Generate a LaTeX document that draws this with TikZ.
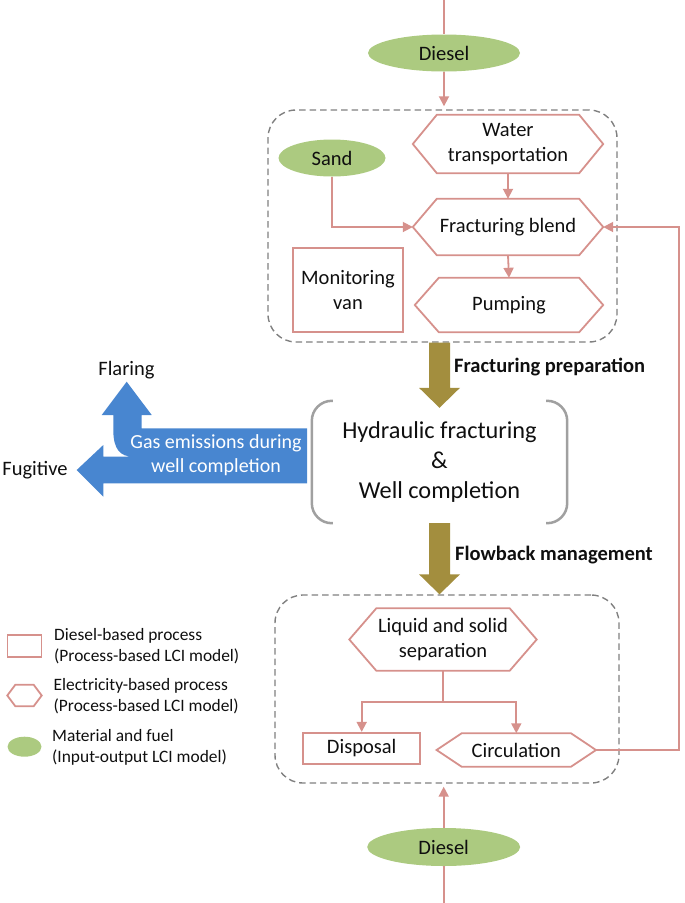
\documentclass[tikz,border=0pt]{standalone}
\usepackage{fontspec}
\setmainfont{Carlito}
\usetikzlibrary{arrows.meta,shapes.geometric,calc}
\definecolor{pinkc}{RGB}{214,145,140}
\definecolor{greenc}{RGB}{172,202,128}
\definecolor{goldc}{RGB}{163,142,62}
\definecolor{bluec}{RGB}{72,134,208}
\definecolor{grayc}{RGB}{128,128,128}
\definecolor{bracketc}{RGB}{160,160,160}
\definecolor{textc}{RGB}{15,15,15}
\newcommand\hexdraw[2]{\draw[proc] (#1.west) -- ([xshift=#2]#1.north west) -- ([xshift=-#2]#1.north east) -- (#1.east) -- ([xshift=-#2]#1.south east) -- ([xshift=#2]#1.south west) -- cycle;}
\newcommand\goldarr[2]{\fill[goldc] let \p1=(#1), \p2=(#2) in (\x1-10.5pt,\y1) -- (\x1-10.5pt,\y2+20pt) -- (\x1-20.5pt,\y2+20pt) -- (\x1,\y2) -- (\x1+20.5pt,\y2+20pt) -- (\x1+10.5pt,\y2+20pt) -- (\x1+10.5pt,\y1) -- cycle;}
\begin{document}
\begin{tikzpicture}[x=1pt,y=-1pt,
  txt/.style={font=\fontsize{20.5}{25}\selectfont, align=center, inner sep=0pt, text=textc},
  mat/.style={txt, ellipse, fill=greenc, draw=none},
  box/.style={txt, rectangle},
  proc/.style={draw=pinkc, line width=1.8pt},
  flow/.style={draw=pinkc, line width=1.8pt, -{Triangle[length=10pt,width=10pt]}},
  dashbox/.style={draw=grayc, line width=1.4pt, dash pattern=on 6.5pt off 4pt, rounded corners=28pt, inner sep=0pt},
  legtxt/.style={font=\fontsize{17.4}{20.7}\selectfont, align=left, inner sep=0pt, text=textc, anchor=west},
  lbl/.style={font=\fontsize{20.5}{25}\selectfont\bfseries, inner sep=0pt, text=textc, anchor=west}
]
\useasboundingbox (0,0) rectangle (685,903);

% dashed group boxes
\node[dashbox, minimum width=349pt, minimum height=232pt] (box1) at (442.5,226) {};
\node[dashbox, minimum width=344pt, minimum height=188pt] (box2) at (447,689) {};

% top part
\node[mat, minimum width=152pt, minimum height=37pt] (diesel1) at (444,53) {Diesel};
\node[mat, minimum width=107pt, minimum height=37pt] (sand) at (332,158) {Sand};
\node[box, minimum width=190pt, minimum height=58pt] (water) at (508,144) {Water\\transportation};
\hexdraw{water}{24pt}
\node[box, minimum width=190pt, minimum height=56pt] (blend) at (508,227) {Fracturing blend};
\hexdraw{blend}{24pt}
\node[box, minimum width=188pt, minimum height=54pt] (pump) at (509,305) {Pumping};
\hexdraw{pump}{24pt}
\node[box, draw=pinkc, line width=1.8pt, minimum width=110pt, minimum height=84pt] (monitor) at (348,290) {Monitoring\\van};

\coordinate (top) at (444,0);
\draw[proc] (top) -- (diesel1.north);
\draw[flow, shorten >=3pt] (diesel1.south) -- (diesel1.south |- box1.north);
\draw[flow] (sand.south) |- (blend.west);
\draw[flow] (water.south) -- (blend.north);
\draw[flow] (blend.south) -- (pump.north);

% middle
\node[box, font=\fontsize{24.3}{29.7}\selectfont, minimum width=255pt, minimum height=122pt] (hyd) at (439.5,462) {Hydraulic fracturing\\\&\\Well completion};
\draw[bracketc, line width=2.5pt, rounded corners=20pt] ([xshift=21pt]hyd.north west) -- (hyd.north west) -- (hyd.south west) -- ([xshift=21pt]hyd.south west);
\draw[bracketc, line width=2.5pt, rounded corners=20pt] ([xshift=-21pt]hyd.north east) -- (hyd.north east) -- (hyd.south east) -- ([xshift=-21pt]hyd.south east);

\goldarr{box1.south -| hyd.north}{[yshift=-7pt]hyd.north}
\goldarr{hyd.south}{box2.north -| hyd.south}
\node[lbl] (prep) at (454,367) {Fracturing preparation};
\node[lbl] (flowback) at (455,555) {Flowback management};

% blue emission arrows
\fill[bluec] (307,428.3) -- (141.7,428.3) -- (141.7,415) -- (151.7,415) -- (126.7,381.7) -- (101.7,415) -- (113.3,415) -- (113.3,430)
  .. controls (113.3,449) and (120,456.7) .. (133.3,456.7) -- (103.3,456.7) -- (103.3,445) -- (76.7,470) -- (103.3,496.7) -- (103.3,483.3) -- (307,483.3) -- cycle;
\node[txt, font=\fontsize{20}{24}\selectfont, text=white] (gas) at (216,455) {Gas emissions during\\well completion};
\node[txt] (flaring) at (126.5,370) {Flaring};
\node[txt] (fugitive) at (35,470) {Fugitive};

% bottom part
\node[box, minimum width=187pt, minimum height=62pt] (sep) at (443,639.5) {Liquid and solid\\separation};
\hexdraw{sep}{27pt}
\node[box, draw=pinkc, line width=1.8pt, minimum width=117pt, minimum height=31pt] (disposal) at (361.7,748.3) {Disposal};
\node[box, minimum width=159pt, minimum height=33pt] (circ) at (516.3,750) {Circulation};
\hexdraw{circ}{25pt}
\node[mat, minimum width=153pt, minimum height=38pt] (diesel2) at (443.7,847) {Diesel};

\draw[proc] (sep.south) -- ++(0,31) coordinate (split);
\draw[flow] (split) -| (disposal.north);
\draw[flow] (split) -| (circ.north);
\draw[flow] (circ.east) -- ++(83,0) |- (blend.east);
\coordinate (bot) at (443.7,903);
\draw[proc] (bot) -- (diesel2.south);
\draw[flow, shorten >=3pt] (diesel2.north) -- (diesel2.north |- box2.south);

% legend
\node[box, draw=pinkc, line width=1.4pt, minimum width=34pt, minimum height=22pt] (lgrect) at (24.5,646) {};
\node[box, minimum width=34pt, minimum height=21pt] (lghex) at (24.5,695.5) {};
\hexdraw{lghex}{8pt}
\node[mat, minimum width=34pt, minimum height=20pt] (lgell) at (24.5,746.7) {};
\node[legtxt] (lt1) at (54,646.3) {Diesel-based process\\(Process-based LCI model)};
\node[legtxt] (lt2) at (53.5,696) {Electricity-based process\\(Process-based LCI model)};
\node[legtxt] (lt3) at (52,747.5) {Material and fuel\\(Input-output LCI model)};
\end{tikzpicture}
\end{document}
